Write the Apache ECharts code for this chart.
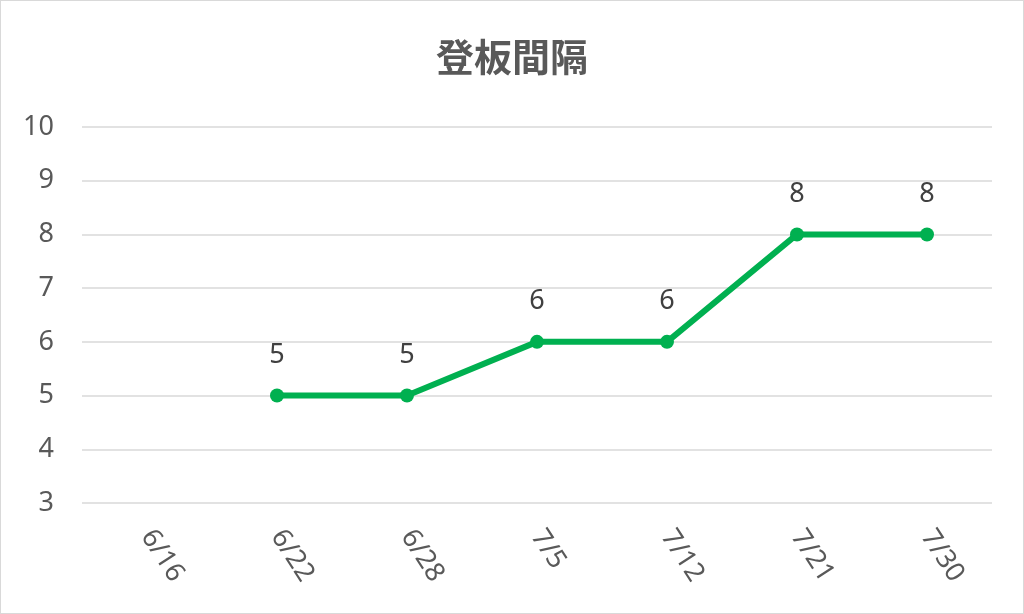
<!DOCTYPE html>
<html lang="ja">
<head>
    <meta charset="utf-8"/>
    <title>登板間隔</title>
    <script src="https://cdn.jsdelivr.net/npm/echarts@6/dist/echarts.min.js"></script>
    <style>
        * { margin: 0; padding: 0; }
        html, body { width: 100%; height: 100%; background: #fff; }
        #main {
            position: absolute; left: 0; top: 0;
            width: 1022px; height: 612px;
            border: 1px solid #d9d9d9;
        }
    </style>
</head>
<body>
<div id="main"></div>
<script>
    // 日付と登板間隔（日）
    var dates = ['6/16', '6/22', '6/28', '7/5', '7/12', '7/21', '7/30'];
    var intervals = [null, 5, 5, 6, 6, 8, 8];
    var yTicks = [3, 4, 5, 6, 7, 8, 9, 10];

    var fontFam = '"Noto Sans CJK JP", "Noto Sans", sans-serif';
    var chart = echarts.init(document.getElementById('main'));

    chart.setOption({
        animation: false,
        title: {
            text: '登板間隔',
            left: 'center',
            top: 32,
            textStyle: { fontFamily: fontFam, fontSize: 38, fontWeight: 'bold', color: '#595959' }
        },
        grid: { left: 81, right: 31, top: 126, bottom: 110 },
        xAxis: {
            type: 'category',
            data: dates,
            boundaryGap: true,
            axisLine: { show: false },
            axisTick: { show: false },
            axisLabel: {
                rotate: -57,
                margin: 29,
                fontFamily: '"Noto Sans", sans-serif',
                fontSize: 27,
                color: '#595959'
            }
        },
        yAxis: {
            type: 'value',
            min: yTicks[0],
            max: yTicks[yTicks.length - 1],
            interval: 1,
            axisLine: { show: false },
            axisTick: { show: false },
            axisLabel: { margin: 28, fontFamily: '"Noto Sans", sans-serif', fontSize: 27, color: '#595959' },
            splitLine: { lineStyle: { color: '#d9d9d9', width: 1.5 } }
        },
        series: [{
            type: 'line',
            data: intervals,
            connectNulls: false,
            symbol: 'circle',
            symbolSize: 14,
            lineStyle: { color: '#00b050', width: 6 },
            itemStyle: { color: '#00b050' },
            label: {
                show: true,
                position: 'top',
                distance: 20,
                fontFamily: '"Noto Sans", sans-serif',
                fontSize: 27,
                color: '#404040'
            }
        }]
    });
</script>
</body>
</html>
